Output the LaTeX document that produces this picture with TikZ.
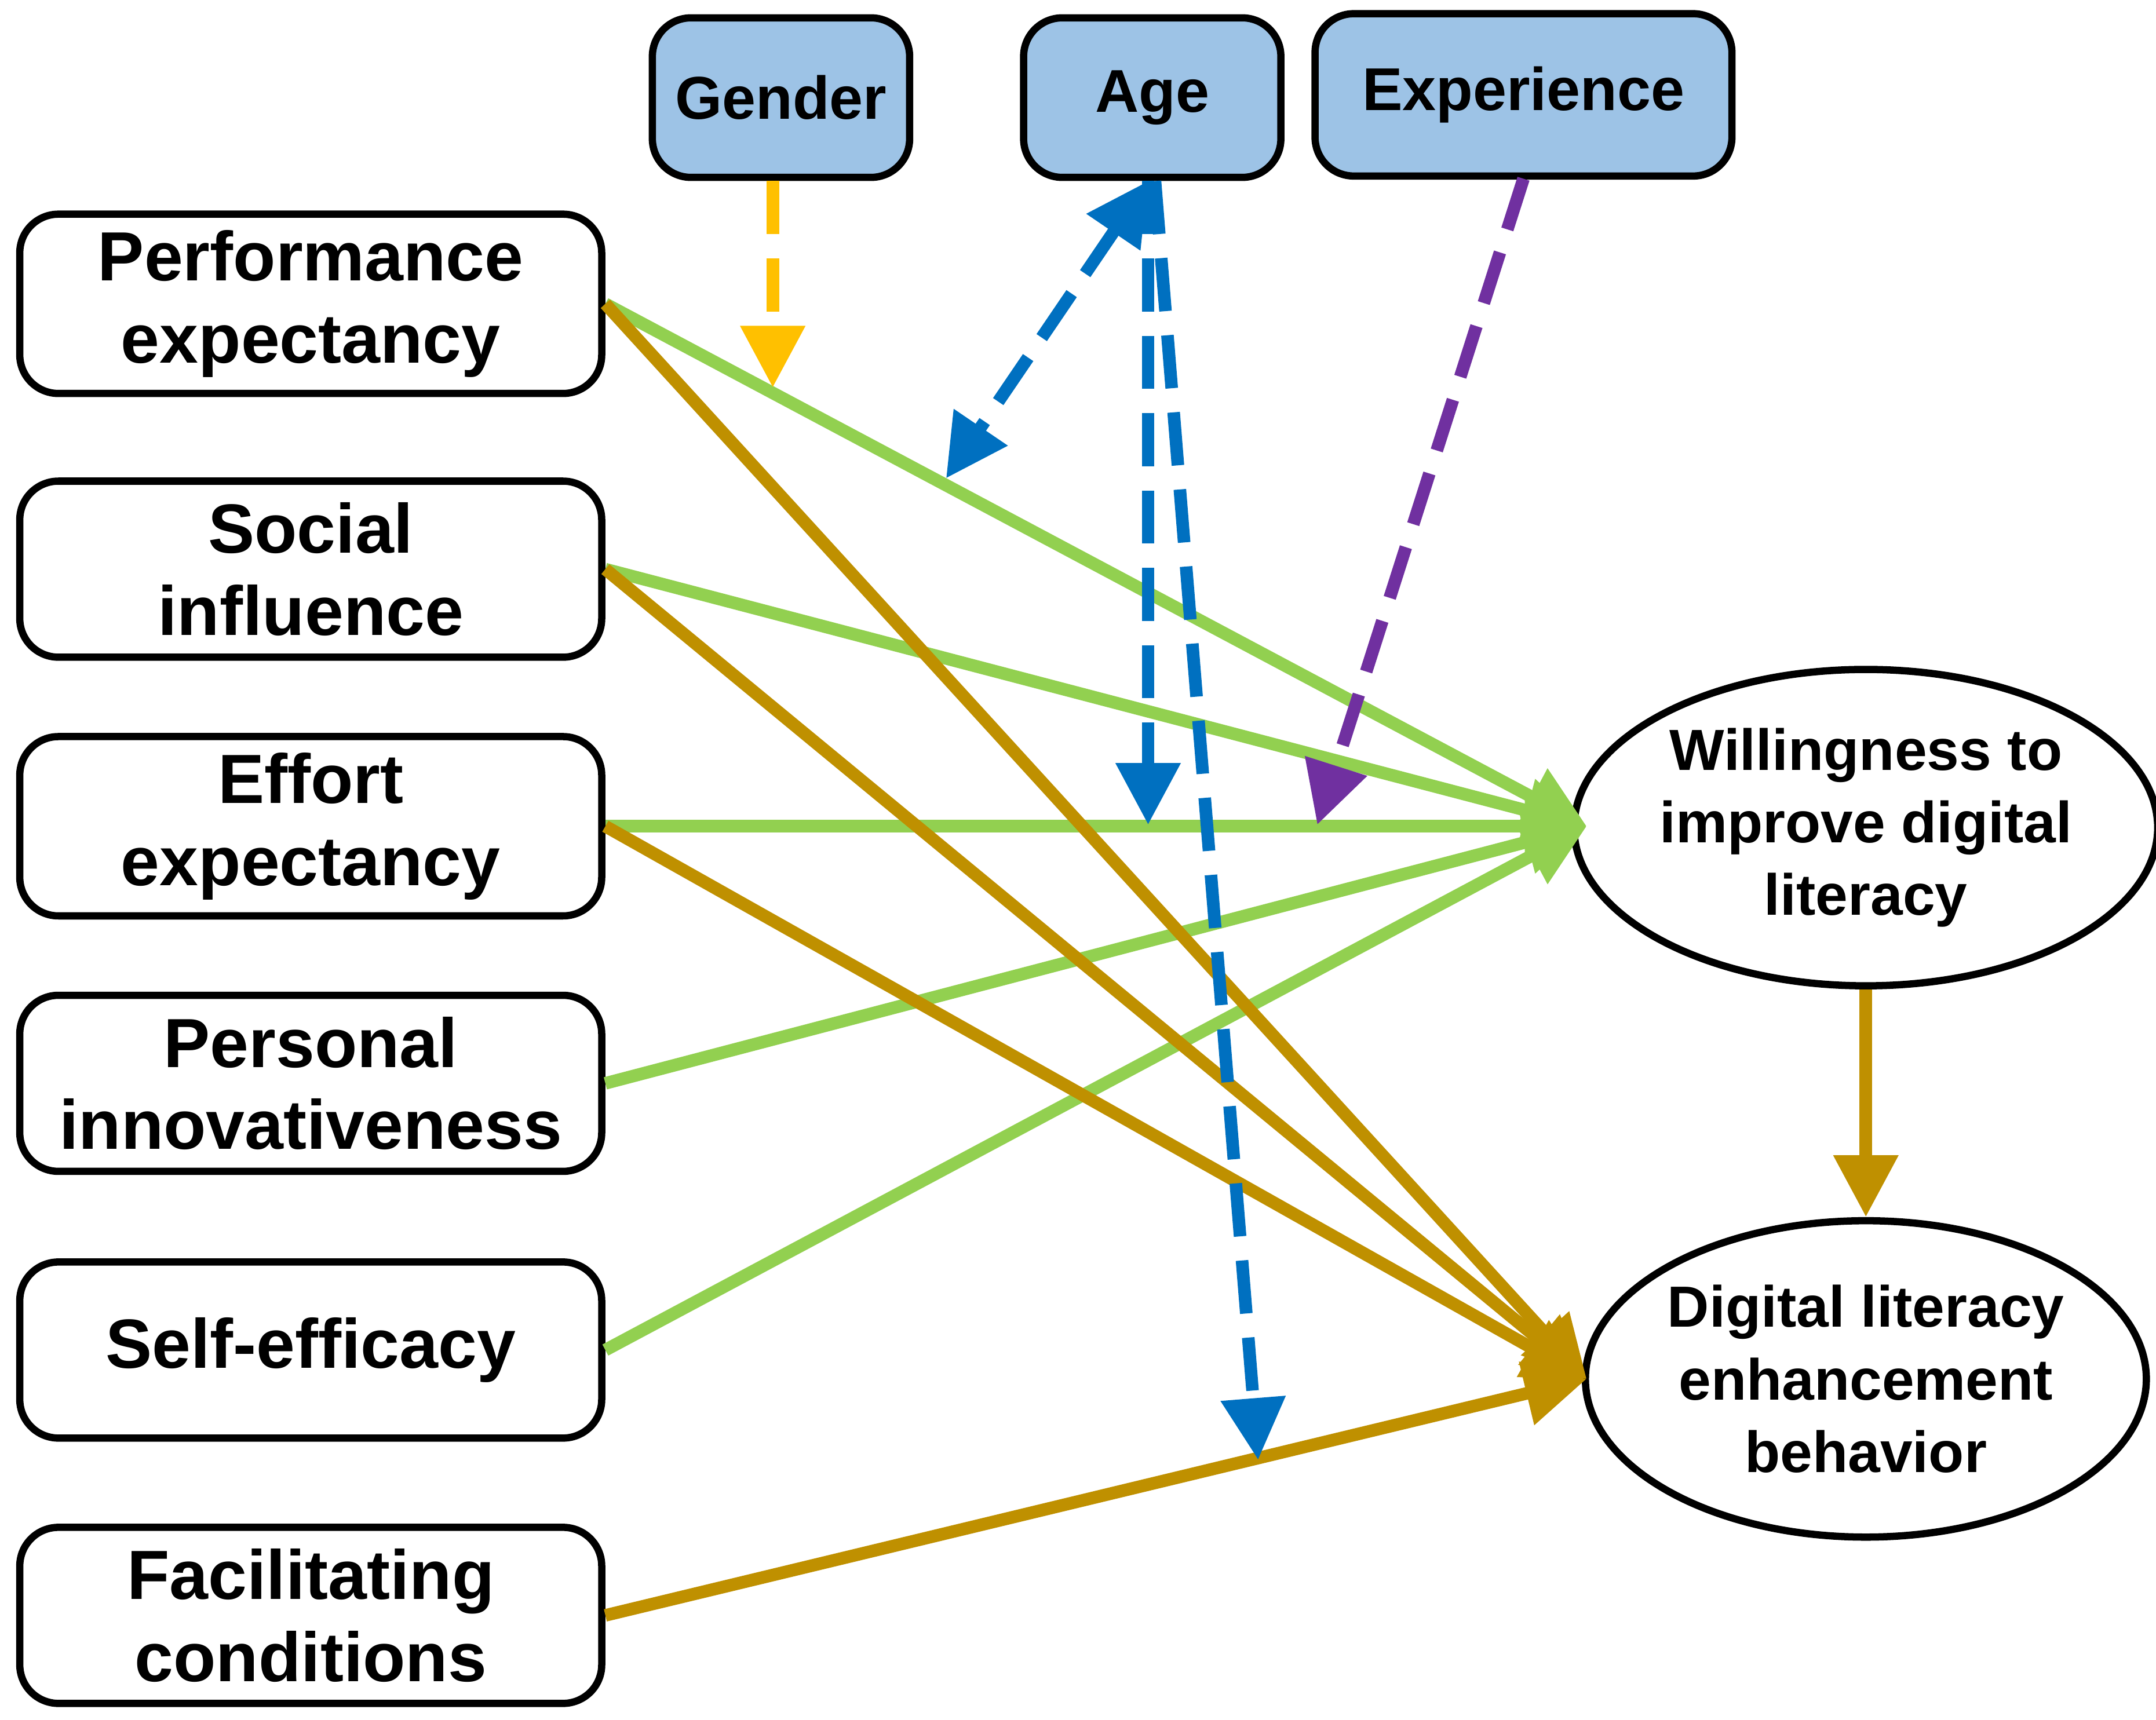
\documentclass[tikz,border=0pt]{standalone}
\usepackage{fontspec}
\setmainfont{Liberation Sans}
\usetikzlibrary{arrows.meta,shapes.geometric}
\definecolor{gr}{RGB}{146,208,80}
\definecolor{gd}{RGB}{191,144,0}
\definecolor{bl}{RGB}{0,112,192}
\definecolor{pu}{RGB}{112,48,160}
\definecolor{ye}{RGB}{255,192,0}
\definecolor{lb}{RGB}{157,195,230}
\begin{document}
\begin{tikzpicture}[x=0.01cm,y=-0.01cm,
 box/.style={draw,line width=1.5pt,rounded corners=8pt,minimum width=4.23cm,minimum height=1.28cm,align=center,font=\fontsize{14.4}{17}\selectfont\bfseries},
 mod/.style={box,fill=lb,minimum height=1.16cm,font=\fontsize{12.5}{15}\selectfont\bfseries},
 ell/.style={draw,ellipse,line width=1.5pt,inner sep=0pt,minimum width=4.06cm,minimum height=2.3cm,align=center,font=\fontsize{12}{15}\selectfont\bfseries},
 tip/.style={-{Triangle[length=0.45cm,width=0.45cm]}},
 ga/.style={line width=2.6pt,gr,tip},
 go/.style={line width=2.6pt,gd,tip},
 da/.style={line width=2.6pt,dash pattern=on 11pt off 5pt,tip}]
\useasboundingbox (0,0) rectangle (1568,1251);
\node[box] (pe) at (226,221) {Performance\\expectancy};
\node[box] (si) at (226,414) {Social\\influence};
\node[box] (ee) at (226,601) {Effort\\expectancy};
\node[box] (pi) at (226,788) {Personal\\innovativeness};
\node[box] (se) at (226,982) {Self-efficacy};
\node[box] (fc) at (226,1175) {Facilitating\\conditions};
\node[mod,minimum width=1.87cm] (g) at (568,71) {Gender};
\node[mod,minimum width=1.87cm] (a) at (838,71) {Age};
\node[mod,minimum width=3.03cm,minimum height=1.18cm] (x) at (1108,69) {Experience};
\node[ell] (w) at (1357,602) {Willingness to\\improve digital\\literacy};
\node[ell] (d) at (1357,1003) {Digital literacy\\enhancement\\behavior};
\coordinate (wl) at (1154,601);
\coordinate (dl) at (1154,1003);
\foreach \n in {pe,si,ee,pi,se} \draw[ga] (\n.east) -- (wl);
\foreach \n in {pe,si,ee,fc} \draw[go] (\n.east) -- (dl);
\draw[go] (w.south) -- (d.north);
\coordinate (g1) at (562,282);
\coordinate (a1) at (688,348);
\coordinate (a2) at (835,600);
\coordinate (a3) at (915,1062);
\coordinate (x1) at (958,600);
\draw[da,ye] (g.south -| g1) -- (g1);
\draw[da,bl,{Triangle[length=0.45cm,width=0.45cm]}-{Triangle[length=0.45cm,width=0.45cm]}] (a.south -| 835,0) -- (a1);
\draw[da,bl] (a.south -| 835,0) -- (a2);
\draw[da,bl] (a.south -| 840,0) -- (a3);
\draw[da,pu] (1108,130) -- (x1);
\end{tikzpicture}
\end{document}
